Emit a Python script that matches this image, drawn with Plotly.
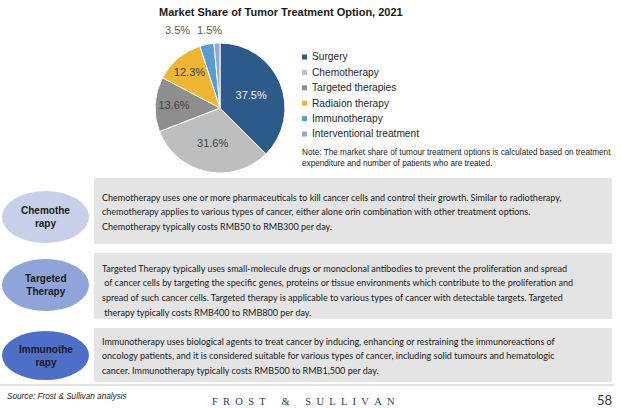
import plotly.graph_objects as go

W, H = 621, 408

# ---- data ----
treatments = ["Surgery", "Chemotherapy", "Targeted therapies", "Radiaion therapy",
              "Immunotherapy", "Interventional treatment"]
shares = [37.5, 31.6, 13.6, 12.3, 3.5, 1.5]
slice_colors = ["#2C5A8A", "#BDBEC0", "#8E8E8E", "#F0B531", "#5B9BD5", "#8EA9DB"]
label_colors = ["#F2F2F2", "#404040", "#404040", "#404040", "#595959", "#595959"]

title_text = "Market Share of Tumor Treatment Option, 2021"
note_lines = [
    "Note: The market share of tumour treatment options is calculated based on treatment",
    "expenditure and number of patients who are treated.",
]

option_names = [["Chemothe", "rapy"], ["Targeted", "Therapy"], ["Immunothe", "rapy"]]
option_fill = ["#C7D0E8", "#8FA4D8", "#4E6FC8"]
option_text = [
    ["Chemotherapy uses one or more pharmaceuticals to kill cancer cells and control their growth. Similar to radiotherapy,",
     "chemotherapy applies to various types of cancer, either alone orin combination with other treatment options.",
     "Chemotherapy typically costs RMB50 to RMB300 per day."],
    ["Targeted Therapy typically uses small-molecule drugs or monoclonal antibodies to prevent the proliferation and spread",
     " of cancer cells by targeting the specific genes, proteins or tissue environments which contribute to the proliferation and",
     "spread of such cancer cells. Targeted therapy is applicable to various types of cancer with detectable targets. Targeted",
     " therapy typically costs RMB400 to RMB800 per day."],
    ["Immunotherapy uses biological agents to treat cancer by inducing, enhancing or restraining the immunoreactions of",
     "oncology patients, and it is considered suitable for various types of cancer, including solid tumours and hematologic",
     "cancer. Immunotherapy typically costs RMB500 to RMB1,500 per day."],
]
source_text = "Source: Frost & Sullivan analysis"
brand_text = "\u2002".join("FROST") + "\u2002\u2002\u2002&\u2002\u2002\u2002" + "\u2002".join("SULLIVAN")
page_no = "58"


def px(x):
    return x / W


def py(y):
    return 1 - y / H


ARIAL = "Liberation Sans, Arial, sans-serif"
BODY = "Lato, Liberation Sans, sans-serif"

fig = go.Figure()

# ---- pie ----
cx, cy, r = 220, 108, 65
inside = [s >= 5 for s in shares]
fig.add_trace(go.Pie(
    labels=treatments,
    values=shares,
    sort=False,
    direction="clockwise",
    rotation=0,
    marker=dict(colors=slice_colors, line=dict(color="white", width=1)),
    texttemplate=["%{value:.1f}%" if k else "" for k in inside],
    textposition=["inside" if k else "none" for k in inside],
    insidetextorientation="horizontal",
    textfont=dict(family=ARIAL, size=11, color=label_colors),
    hoverinfo="label+value",
    showlegend=False,
    domain=dict(x=[px(cx - r), px(cx + r)], y=[py(cy + r), py(cy - r)]),
))

annotations = []
shapes = []

# small-slice labels above the pie
small_pos = {4: (177, 30), 5: (209, 30)}
for i, (xx, yy) in small_pos.items():
    annotations.append(dict(
        x=px(xx), y=py(yy), xref="paper", yref="paper", showarrow=False,
        text=f"{shares[i]:.1f}%", font=dict(family=ARIAL, size=11, color=label_colors[i]),
        xanchor="center", yanchor="middle"))

# title
annotations.append(dict(
    x=px(281), y=py(12), xref="paper", yref="paper", showarrow=False,
    text=f"<b>{title_text}</b>", font=dict(family=ARIAL, size=11, color="#1A1A1A"),
    xanchor="center", yanchor="middle"))

# legend keys
leg_y0, leg_dy = 57, 15.4
for i, (name, col) in enumerate(zip(treatments, slice_colors)):
    yy = leg_y0 + i * leg_dy
    shapes.append(dict(type="rect", xref="paper", yref="paper",
                       x0=px(302), x1=px(307), y0=py(yy + 2.5), y1=py(yy - 2.5),
                       fillcolor=col, line=dict(width=0)))
    annotations.append(dict(
        x=px(309.5), y=py(yy), xref="paper", yref="paper", showarrow=False,
        text=name, font=dict(family=ARIAL, size=10.2, color="#262626"),
        xanchor="left", yanchor="middle"))

# note
for j, line in enumerate(note_lines):
    annotations.append(dict(
        x=px(300), y=py(152 + j * 11), xref="paper", yref="paper", showarrow=False,
        text=line, font=dict(family=ARIAL, size=8.2, color="#1A1A1A"),
        xanchor="left", yanchor="middle"))

# treatment option panels
boxes = [(178, 244), (253, 319), (328, 382)]
ellipses = [(191, 243), (259, 311), (331, 380)]
line_y0 = [197, 268, 341]
for k in range(3):
    b0, b1 = boxes[k]
    shapes.append(dict(type="rect", xref="paper", yref="paper", layer="below",
                       x0=px(94), x1=px(612), y0=py(b1), y1=py(b0),
                       fillcolor="#E4E4E4", line=dict(width=0)))
    e0, e1 = ellipses[k]
    shapes.append(dict(type="circle", xref="paper", yref="paper", layer="below",
                       x0=px(2), x1=px(89), y0=py(e1), y1=py(e0),
                       fillcolor=option_fill[k], line=dict(width=0)))
    ec = (e0 + e1) / 2
    annotations.append(dict(
        x=px(45.5), y=py(ec), xref="paper", yref="paper", showarrow=False,
        text="<b>" + "<br>".join(option_names[k]) + "</b>",
        font=dict(family=ARIAL, size=10, color="#1A1A1A"),
        xanchor="center", yanchor="middle", align="center"))
    for j, line in enumerate(option_text[k]):
        annotations.append(dict(
            x=px(100), y=py(line_y0[k] + j * 14.8), xref="paper", yref="paper",
            showarrow=False, text=line.replace(" ", "\u00a0", 1) if line.startswith(" ") else line,
            font=dict(family=BODY, size=9.0, color="#1A1A1A"),
            xanchor="left", yanchor="middle"))

# footer
shapes.append(dict(type="line", xref="paper", yref="paper",
                   x0=px(0), x1=px(614), y0=py(385), y1=py(385),
                   line=dict(color="#D9D9D9", width=1.5)))
annotations.append(dict(
    x=px(5), y=py(396), xref="paper", yref="paper", showarrow=False,
    text=f"<i>{source_text}</i>", font=dict(family=ARIAL, size=8.2, color="#262626"),
    xanchor="left", yanchor="middle"))
annotations.append(dict(
    x=px(303), y=py(401), xref="paper", yref="paper", showarrow=False,
    text=brand_text, font=dict(family="Liberation Serif, serif", size=10.5, color="#2E3B57"),
    xanchor="center", yanchor="middle"))
annotations.append(dict(
    x=px(614), y=py(400), xref="paper", yref="paper", showarrow=False,
    text=page_no, font=dict(family=BODY, size=13, color="#333333"),
    xanchor="right", yanchor="middle"))

fig.update_layout(
    width=W, height=H,
    margin=dict(l=0, r=0, t=0, b=0),
    paper_bgcolor="white", plot_bgcolor="white",
    shapes=shapes, annotations=annotations,
    showlegend=False,
)

fig.write_html("out.html")
